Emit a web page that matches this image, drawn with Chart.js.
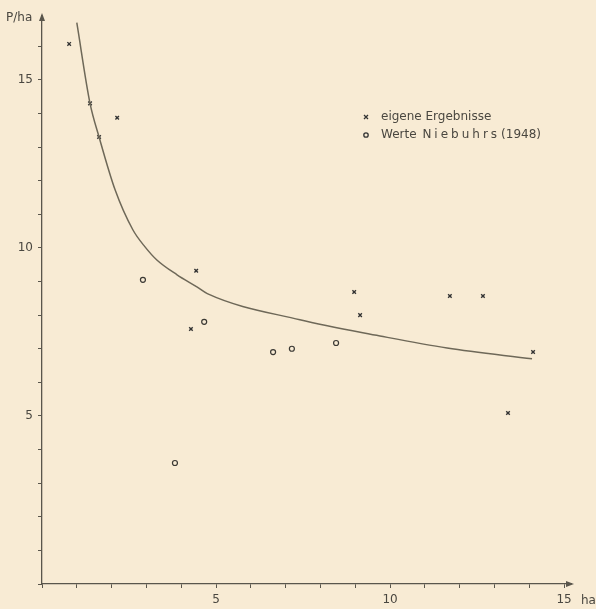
<!DOCTYPE html>
<html><head><meta charset="utf-8">
<script src="https://cdn.jsdelivr.net/npm/chart.js@4/dist/chart.umd.min.js"></script>
<style>
html,body{margin:0;padding:0;background:#f8ebd4;}
#wrap{width:596px;height:609px;position:relative;}
canvas{display:block;}
</style>
</head><body><div id="wrap"><canvas id="c" width="596" height="609"></canvas></div>
<script>
// ---- data ----
const eigeneX = [0.78, 1.38, 1.64, 2.16, 4.43, 4.28, 8.97, 9.14, 11.72, 12.67, 14.11, 13.39];
const eigeneY = [16.07, 14.3, 13.3, 13.87, 9.32, 7.59, 8.69, 8.0, 8.57, 8.57, 6.9, 5.09];
const niebuhrX = [2.9, 4.66, 6.64, 7.18, 8.45, 3.82];
const niebuhrY = [9.05, 7.8, 6.9, 7.0, 7.17, 3.6];
const curveX = [1.0, 1.38, 1.64, 2.1, 2.61, 2.96, 3.30, 3.88, 4.45, 4.75, 7.41, 9.71, 11.64, 14.08];
const curveY = [16.7, 14.3, 13.3, 11.73, 10.54, 10.03, 9.64, 9.2, 8.84, 8.64, 7.86, 7.38, 7.02, 6.7];
const xTickValues = [0,1,2,3,4,5,6,7,8,9,10,11,12,13,14,15];
const xTickLabels = ['','','','','','5','','','','','10','','','','','15'];
const yTickValues = [0,1,2,3,4,5,6,7,8,9,10,11,12,13,14,15,16];
const yTickLabels = ['','','','','','5','','','','','10','','','','','15',''];
const legendLabels = ['eigene Ergebnisse', 'Werte Niebuhrs (1948)'];
const xUnit = 'ha';
const yUnit = 'P/ha';

const INK = '#4a4740';
const AXIS = '#5a564c';
const FONT = '"DejaVu Sans", sans-serif';

const toPts = (xs, ys) => xs.map((x, i) => ({x, y: ys[i]}));

const decor = {
  id: 'decor',
  beforeDraw(chart) {
    const ctx = chart.ctx;
    ctx.save();
    ctx.fillStyle = '#f8ebd4';
    ctx.fillRect(0, 0, chart.width, chart.height);
    ctx.restore();
  },
  afterDraw(chart) {
    const ctx = chart.ctx;
    const a = chart.chartArea;
    ctx.save();
    ctx.fillStyle = AXIS;
    // y arrow
    ctx.beginPath();
    ctx.moveTo(a.left, a.top - 3);
    ctx.lineTo(a.left - 3, a.top + 5);
    ctx.lineTo(a.left + 3, a.top + 5);
    ctx.closePath(); ctx.fill();
    // x arrow
    ctx.beginPath();
    ctx.moveTo(a.right + 3, a.bottom);
    ctx.lineTo(a.right - 5, a.bottom - 3);
    ctx.lineTo(a.right - 5, a.bottom + 3);
    ctx.closePath(); ctx.fill();
    // unit labels
    ctx.fillStyle = INK;
    ctx.font = '12px ' + FONT;
    ctx.textBaseline = 'middle';
    ctx.textAlign = 'left';
    ctx.fillText(yUnit, 6, 18);
    ctx.fillText(xUnit, a.right + 10, 601);
    // legend
    const lx = 366, ly1 = 117, ly2 = 135, tx = 381;
    ctx.strokeStyle = '#333';
    ctx.lineWidth = 1.3;
    const r = 2;
    ctx.beginPath();
    ctx.moveTo(lx - r, ly1 - r); ctx.lineTo(lx + r, ly1 + r);
    ctx.moveTo(lx - r, ly1 + r); ctx.lineTo(lx + r, ly1 - r);
    ctx.stroke();
    ctx.beginPath();
    ctx.arc(lx, ly2, 2.2, 0, Math.PI * 2);
    ctx.stroke();
    ctx.fillText(legendLabels[0], tx, ly1);
    // second label with letter-spaced middle word
    const parts = legendLabels[1].split(' ');
    let x = tx;
    ctx.fillText(parts[0] + ' ', x, ly2);
    x += ctx.measureText(parts[0] + ' ').width + 2;
    for (const ch of parts[1]) {
      ctx.fillText(ch, x, ly2);
      x += ctx.measureText(ch).width + 3;
    }
    x += 1;
    ctx.fillText(parts.slice(2).join(' '), x, ly2);
    ctx.restore();
  }
};

new Chart(document.getElementById('c'), {
  type: 'scatter',
  data: {
    datasets: [
      {
        label: 'Kurve',
        type: 'line',
        data: toPts(curveX, curveY),
        borderColor: '#6e6858',
        borderWidth: 1.5,
        pointRadius: 0,
        fill: false,
        cubicInterpolationMode: 'monotone'
      },
      {
        label: legendLabels[0],
        data: toPts(eigeneX, eigeneY),
        pointStyle: 'crossRot',
        pointRadius: 2.5,
        borderColor: '#333',
        borderWidth: 1.4,
        backgroundColor: '#333'
      },
      {
        label: legendLabels[1],
        data: toPts(niebuhrX, niebuhrY),
        pointStyle: 'circle',
        pointRadius: 2.5,
        borderColor: '#3a3833',
        borderWidth: 1.2,
        backgroundColor: 'rgba(0,0,0,0)'
      }
    ]
  },
  options: {
    responsive: false,
    animation: false,
    devicePixelRatio: 1,
    layout: {padding: {top: 16, right: 25, left: 0, bottom: 0}},
    plugins: {legend: {display: false}, tooltip: {enabled: false}},
    scales: {
      x: {
        type: 'linear', min: 0, max: 15.2,
        afterBuildTicks: s => { s.ticks = xTickValues.map(v => ({value: v})); },
        afterFit: s => { s.height = 25; },
        ticks: {
          autoSkip: false, maxRotation: 0, padding: 5,
          color: INK, font: {family: FONT, size: 12},
          callback: (v) => xTickLabels[xTickValues.indexOf(v)] ?? ''
        },
        grid: {drawOnChartArea: false, drawTicks: true, tickLength: 4, color: AXIS, lineWidth: 1},
        border: {display: true, color: AXIS, width: 1.3}
      },
      y: {
        type: 'linear', min: 0, max: 16.9,
        afterBuildTicks: s => { s.ticks = yTickValues.map(v => ({value: v})); },
        afterFit: s => { s.width = 42; },
        ticks: {
          autoSkip: false, padding: 5,
          color: INK, font: {family: FONT, size: 12},
          callback: (v) => yTickLabels[yTickValues.indexOf(v)] ?? ''
        },
        grid: {drawOnChartArea: false, drawTicks: true, tickLength: 4, color: AXIS, lineWidth: 1},
        border: {display: true, color: AXIS, width: 1.3}
      }
    }
  },
  plugins: [decor]
});
</script>
</body></html>
